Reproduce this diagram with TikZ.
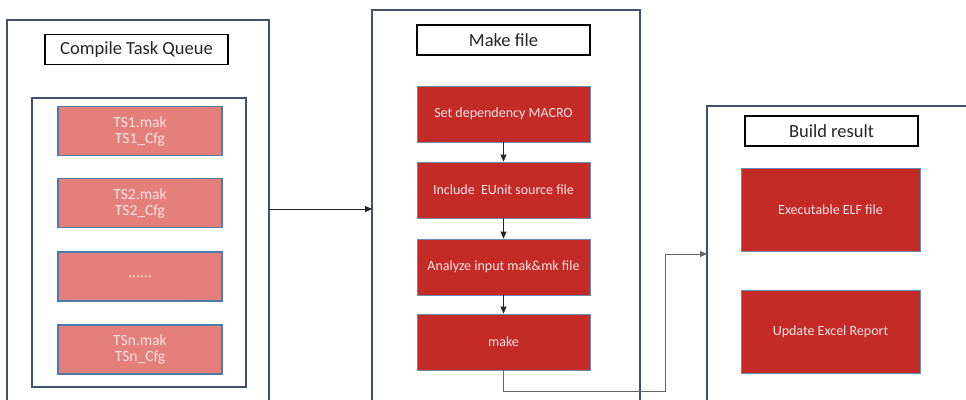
\documentclass[tikz,border=0pt]{standalone}
\usepackage{fontspec}
\setmainfont{Carlito}
\usetikzlibrary{arrows.meta}

\definecolor{framecol}{HTML}{41536B}
\definecolor{pinkfill}{HTML}{E4807B}
\definecolor{pinkline}{HTML}{4F7CAC}
\definecolor{redfill}{HTML}{C42B27}
\definecolor{redline}{HTML}{6A8CB8}
\definecolor{softtext}{HTML}{FBE3E1}

\tikzset{
	frame/.style={draw=framecol, line width=1.4pt},
	titlebox/.style={draw=black, line width=1.3pt, minimum width=173pt, minimum height=30pt, inner sep=0pt, font=\fontsize{18.5}{20}\selectfont, text=black!85},
	pinkbox/.style={draw=pinkline, fill=pinkfill, line width=1.6pt, minimum width=164pt, minimum height=49pt, inner sep=0pt, align=center, text=softtext, font=\fontsize{15.5}{16}\selectfont},
	redbox/.style={draw=redline, fill=redfill, line width=0.8pt, minimum width=173pt, minimum height=56pt, inner sep=0pt, text=softtext, font=\fontsize{14}{16}\selectfont},
	conn/.style={draw=black!85, line width=0.8pt, -{Triangle[length=7pt,width=6pt]}}
}

\begin{document}
\begin{tikzpicture}[x=1pt,y=-1pt]
	%%%%% START %%%%%
	\def\W{966}
	\def\H{399}
	\clip (0,0) rectangle (\W,\H);
	\fill[white] (0,0) rectangle (\W,\H);
	
	% left column: task queue
	\draw[frame] (7,20) rectangle (269,420);
	\node[titlebox, minimum width=183pt] (queue) at (136.5,49.5) {Compile Task Queue};
	\draw[frame] (32,98) rectangle (246,387);
	\node[pinkbox] (ts1) at (140,131) {TS1.mak\\TS1\_Cfg};
	\node[pinkbox] (ts2) at (140,203) {TS2.mak\\TS2\_Cfg};
	\node[pinkbox] (tsdots) at (140,276.5) {......};
	\node[pinkbox] (tsn) at (140,349.5) {TSn.mak\\TSn\_Cfg};
	
	% middle column: make file steps
	\draw[frame] (372,10) rectangle (640,420);
	\node[titlebox] (mkfile) at (503.5,40) {Make file};
	\node[redbox] (setmacro) at (503.5,114) {Set dependency MACRO};
	\node[redbox] (include) at (503.5,190) {Include\ \ EUnit source file};
	\node[redbox] (analyze) at (503.5,267) {Analyze input mak\&mk file};
	\node[redbox] (make) at (503.5,342) {make};
	\draw[conn] (setmacro) -- (include);
	\draw[conn] (include) -- (analyze);
	\draw[conn] (analyze) -- (make);
	
	% right column: build result
	\draw[frame] (707,106) rectangle (1000,420);
	\node[titlebox] (result) at (831.5,131) {Build result};
	\node[redbox, minimum width=179pt, minimum height=83pt] (elf) at (830.5,209.5) {Executable ELF file};
	\node[redbox, minimum width=179pt, minimum height=83pt] (excel) at (830.5,331.5) {Update Excel Report};
	
	% connections between the columns
	\coordinate (qout) at (269,209);
	\coordinate (mkin) at (372,209);
	\coordinate (bend) at (665,391);
	\coordinate (resin) at (707,254);
	\draw[conn] (qout) -- (mkin);
	\draw[conn, draw=black!60] (make.south) |- (bend) |- (resin);
	%%%%% END %%%%%
\end{tikzpicture}
\end{document}
